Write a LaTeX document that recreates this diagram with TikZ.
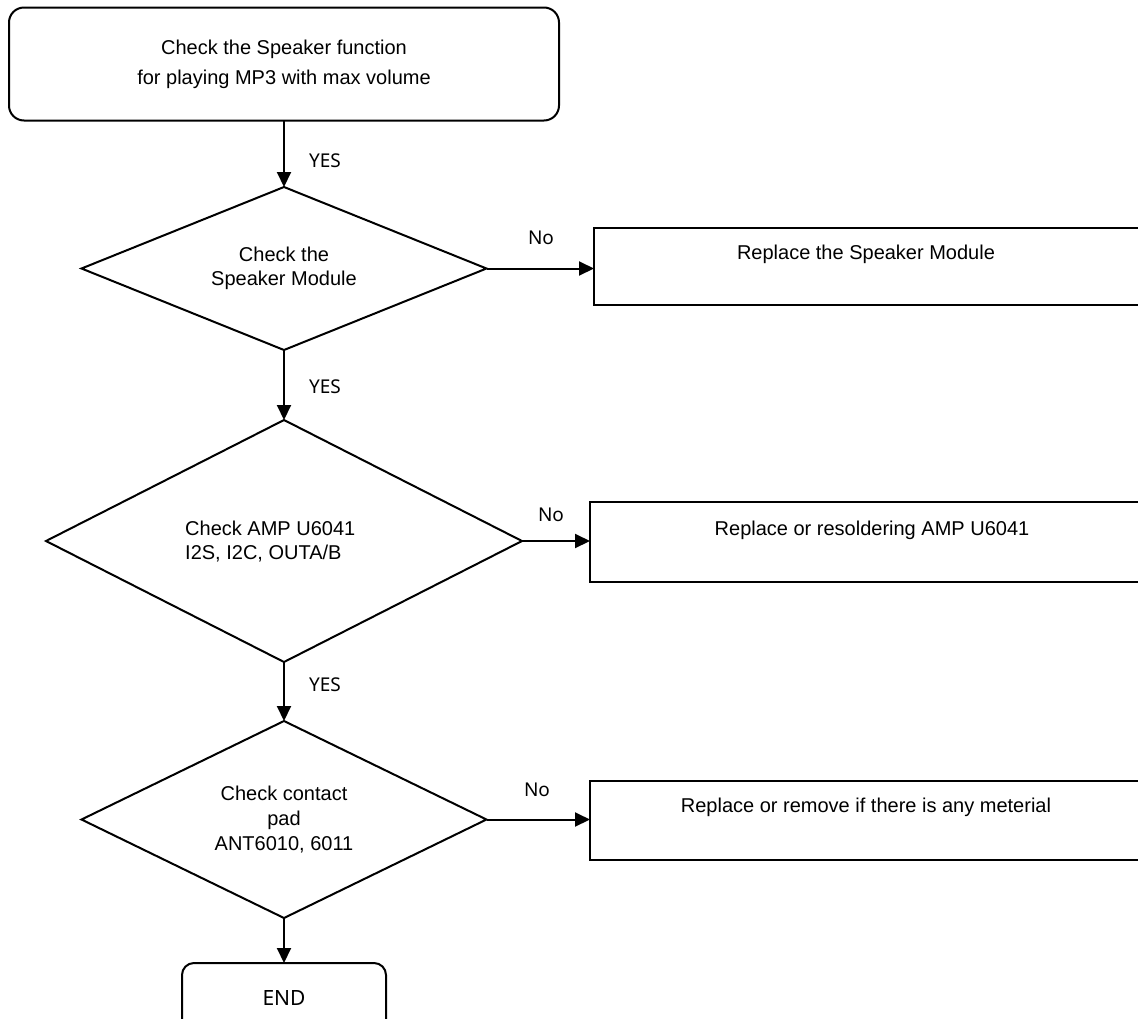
\documentclass[tikz,border=0pt]{standalone}
\usepackage{fontspec}
\setmainfont{Liberation Sans}
\newfontfamily\lblfont{Noto Sans}
\usetikzlibrary{shapes.geometric,arrows.meta}
\begin{document}
\begin{tikzpicture}[x=1pt,y=-1pt,
  every node/.style={font=\fontsize{20}{24}\selectfont},
  arr/.style={line width=2pt, -{Triangle[length=15pt,width=14pt]}},
  rbox/.style={draw, line width=2pt, rounded corners=15pt, inner sep=0pt, outer sep=0pt, align=center},
  dec/.style={draw, diamond, aspect=2.5, line width=2pt, inner sep=0pt, outer sep=0pt, align=center},
  abox/.style={draw, rectangle, line width=2pt, inner sep=0pt, outer sep=0pt, anchor=north west},
  txt/.style={inner sep=0pt},
  lbl/.style={font=\lblfont\fontsize{19}{22}\selectfont, inner sep=0pt}
]
\useasboundingbox (0,0) rectangle (1138,1018);

% start
\node[rbox, minimum width=550pt, minimum height=113pt, font=\fontsize{20}{30}\selectfont] (start) at (284,64)
  {Check the Speaker function\\for playing MP3 with max volume};

% decisions
\node[dec, minimum width=405pt, minimum height=163pt] (d1) at (284,268.5) {Check the\\Speaker Module};
\node[dec, minimum width=476pt, minimum height=242pt] (d2) at (284,541) {};
\node[txt, anchor=west, align=left] (t2) at (185,541.5) {Check AMP U6041\\I2S, I2C, OUTA/B};
\node[dec, minimum width=405pt, minimum height=197pt, font=\fontsize{20}{25}\selectfont] (d3) at (284,819.5) {Check contact\\pad\\ANT6010, 6011};

% action boxes
\node[abox, minimum width=545pt, minimum height=77pt] (b1) at (594,228) {};
\node[txt] (bt1) at (866,254) {Replace the Speaker Module};
\node[abox, minimum width=549pt, minimum height=80pt] (b2) at (590,502) {};
\node[txt] (bt2) at (872,530) {Replace or resoldering AMP U6041};
\node[abox, minimum width=549pt, minimum height=79pt] (b3) at (590,781) {};
\node[txt] (bt3) at (866,807) {Replace or remove if there is any meterial};

% end
\node[rbox, rounded corners=12pt, minimum width=204pt, minimum height=80pt, anchor=north] (endb) at (284,963) {};
\node[lbl, font=\lblfont\fontsize{21}{24}\selectfont] (endt) at (284,998) {END};

% connectors
\draw[arr] (start.south) -- (d1.north);
\draw[arr] (d1.south) -- (d2.north);
\draw[arr] (d2.south) -- (d3.north);
\draw[arr] (d3.south) -- (endb.north);
\draw[arr] (d1.east) -- (d1.east -| b1.west);
\draw[arr] (d2.east) -- (d2.east -| b2.west);
\draw[arr] (d3.east) -- (d3.east -| b3.west);

% labels
\node[lbl] (y1) at (325,161) {YES};
\node[lbl] (y2) at (325,387) {YES};
\node[lbl] (y3) at (325,685) {YES};
\node[lbl] (n1) at (541,238) {No};
\node[lbl] (n2) at (551,515) {No};
\node[lbl] (n3) at (537,790) {No};
\end{tikzpicture}
\end{document}
